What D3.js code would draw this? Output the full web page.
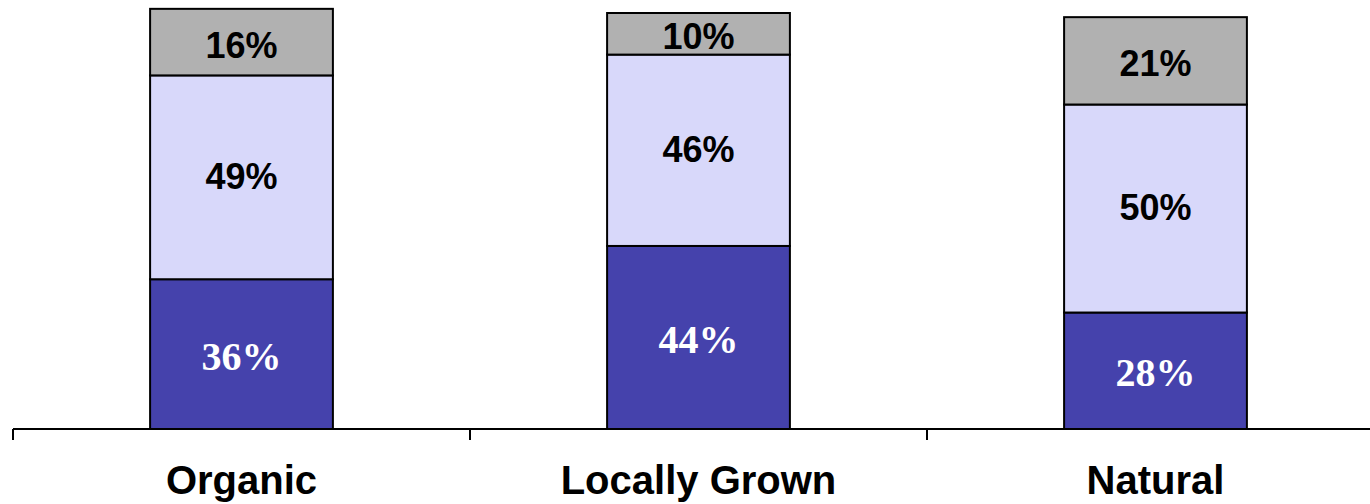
<!DOCTYPE html>
<html><head><meta charset="utf-8">
<script src="https://cdn.jsdelivr.net/npm/d3@7"></script>
<style>body{margin:0;background:#fff}svg{display:block}</style>
</head><body>
<svg id="c" width="1370" height="504"></svg>
<script>
const categories = ["Organic", "Locally Grown", "Natural"];
const seriesNames = ["bottom", "middle", "top"];
const bottomValues = [36, 44, 28];
const middleValues = [49, 46, 50];
const topValues = [16, 10, 21];
const colors = ["#4542AC", "#D8D8FA", "#B1B1B1"];
const labelColors = ["#ffffff", "#000000", "#000000"];

const svg = d3.select("#c");
const x = d3.scaleBand().domain(categories).range([13, 1384]).padding(0);
const y = d3.scaleLinear().domain([0, 100]).range([429, 13]);
const barW = x.bandwidth() * 0.4;

const rows = categories.map((c, i) => ({cat: c, bottom: bottomValues[i], middle: middleValues[i], top: topValues[i]}));
const stack = d3.stack().keys(seriesNames)(rows);
const labelShift = [2, -1, 3];

stack.forEach((layer, li) => {
  const g = svg.append("g");
  g.selectAll("rect").data(layer).join("rect")
    .attr("x", d => x(d.data.cat) + (x.bandwidth() - barW) / 2)
    .attr("y", d => y(d[1]))
    .attr("width", barW)
    .attr("height", d => y(d[0]) - y(d[1]))
    .attr("fill", colors[li])
    .attr("stroke", "#000").attr("stroke-width", 2);
});
stack.forEach((layer, li) => {
  svg.append("g").selectAll("text").data(layer).join("text")
    .attr("x", d => x(d.data.cat) + x.bandwidth() / 2)
    .attr("y", d => (y(d[0]) + y(d[1])) / 2 + labelShift[li])
    .attr("text-anchor", "middle")
    .attr("dominant-baseline", "central")
    .attr("fill", labelColors[li])
    .attr("font-family", li === 0 ? "'Liberation Serif', 'Times New Roman', serif" : "'Liberation Sans', Arial, sans-serif")
    .attr("font-weight", "bold")
    .attr("font-size", li === 0 ? 40 : 36)
    .text(d => (d[1] - d[0]) + "%");
});

const axis = svg.append("g").attr("transform", "translate(0,429)");
axis.append("line").attr("x1", 13).attr("x2", 1384).attr("y1", 0).attr("y2", 0)
  .attr("stroke", "#000").attr("stroke-width", 2);
const tickPos = categories.map(c => x(c)).concat([x.range()[1]]);
axis.selectAll("line.tick").data(tickPos).join("line").attr("class", "tick")
  .attr("x1", d => d).attr("x2", d => d).attr("y1", 0).attr("y2", 11)
  .attr("stroke", "#000").attr("stroke-width", 2);
axis.selectAll("text").data(categories).join("text")
  .attr("x", d => x(d) + x.bandwidth() / 2)
  .attr("y", 65)
  .attr("text-anchor", "middle")
  .attr("font-family", "'Liberation Sans', Arial, sans-serif")
  .attr("font-weight", "bold").attr("font-size", 40)
  .text(d => d);
</script>
</body></html>
